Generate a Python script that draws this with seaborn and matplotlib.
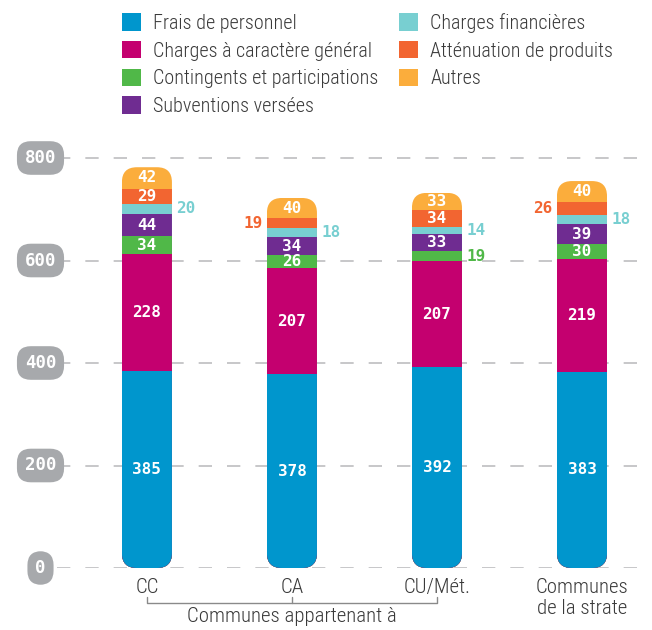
import numpy as np
import seaborn as sns
import matplotlib.pyplot as plt
from matplotlib.patches import Patch, FancyBboxPatch
from matplotlib.transforms import blended_transform_factory

# data (bottom -> top of each bar)
groups = ["CC", "CA", "CU/Mét.", "Communes\nde la strate"]
series = ["Frais de personnel", "Charges à caractère général",
          "Contingents et participations", "Subventions versées",
          "Charges financières", "Atténuation de produits", "Autres"]
frais = [385, 378, 392, 383]
charges_gen = [228, 207, 207, 219]
contingents = [34, 26, 19, 30]
subventions = [44, 34, 33, 39]
charges_fin = [20, 18, 14, 18]
attenuation = [29, 19, 34, 26]
autres = [42, 40, 33, 40]
colors = ["#0096cd", "#c4006f", "#50b848", "#6f2c91",
          "#78cfd1", "#f26531", "#fbad3c"]
yticks = [0, 200, 400, 600, 800]

values = np.array([frais, charges_gen, contingents, subventions,
                   charges_fin, attenuation, autres])
cum = values.cumsum(axis=0)

sns.set_style("white")
txt_font = ["Roboto Condensed", "Lato", "DejaVu Sans"]
num_font = ["DejaVu Sans Mono", "DejaVu Sans"]
plt.rcParams["font.family"] = txt_font
grey_txt = "#3a3a3a"
txt_size = 14.5

W, H = 652, 630
fig = plt.figure(figsize=(W / 100, H / 100), dpi=100)
x0_px, x1_px = 57, 640
y0_px = 568
ylim_top = 850
py_per_unit = 0.5125
ax_h_px = ylim_top * py_per_unit
ax = fig.add_axes([x0_px / W, (H - y0_px) / H, (x1_px - x0_px) / W, ax_h_px / H])

xlim = (-0.62, 3.40)
bar_w = 0.345

# stacked bars: cumulative totals drawn from the top segment down
for k in range(len(series) - 1, -1, -1):
    sns.barplot(x=groups, y=cum[k], color=colors[k], width=bar_w,
                saturation=1, errorbar=None, ax=ax, zorder=2, linewidth=0)

ax.set_xlim(*xlim)
ax.set_ylim(0, ylim_top)

# rounded ends via clip path
px_per_x = (x1_px - x0_px) / (xlim[1] - xlim[0])
r_px = 15
r_x = r_px / px_per_x
aspect = (1 / py_per_unit) / (1 / px_per_x)
clips = []
for i in range(len(groups)):
    clip = FancyBboxPatch((i - bar_w / 2, 0), bar_w, cum[-1][i],
                          boxstyle=f"round,pad=0,rounding_size={r_x}",
                          mutation_aspect=aspect, transform=ax.transData)
    clips.append(clip)
for p in ax.patches:
    i = int(round(p.get_x() + p.get_width() / 2))
    p.set_clip_path(clips[i])

# gridlines
for v in yticks:
    ax.axhline(v, color="#bdbec0", lw=1.2, ls=(0, (8, 9)), zorder=0)

# y tick pills
tr = blended_transform_factory(fig.transFigure, ax.transData)
for v in yticks:
    ax.text(40.5 / W, v, str(v), transform=tr, ha="center", va="center",
            color="white", fontsize=12.5, fontweight="bold", family=num_font,
            bbox=dict(boxstyle="round,pad=0.45,rounding_size=0.8",
                      fc="#a7a9ac", ec="none"), clip_on=False, zorder=5)

# value labels
lbl = dict(fontsize=11.5, fontweight="bold", family=num_font, zorder=4)
for i in range(len(groups)):
    for k in range(len(series)):
        v = values[k][i]
        mid = cum[k][i] - v / 2
        place = "in"
        if k == 4:
            place = "right"
        elif k == 5 and v < 29:
            place = "left"
        elif k == 2 and v < 26:
            place = "right"
        if place == "in":
            ax.text(i, mid, str(v), ha="center", va="center", color="white", **lbl)
        elif place == "right":
            ax.text(i + bar_w / 2 + 0.03, mid, str(v), ha="left", va="center",
                    color=colors[k], **lbl)
        else:
            ax.text(i - bar_w / 2 - 0.03, mid, str(v), ha="right", va="center",
                    color=colors[k], **lbl)

# axes cosmetics
sns.despine(ax=ax, left=True, bottom=True)
ax.set_yticks([])
ax.set_xticks(range(len(groups)))
ax.set_xticklabels(groups, fontsize=txt_size + 0.5, color=grey_txt,
                   linespacing=1.15, fontweight="light")
ax.tick_params(axis="x", length=0, pad=7)
ax.set_xlabel("")
ax.set_ylabel("")

# bracket under the first three groups
yb = -(603 - y0_px) / py_per_unit
yt = -(597 - y0_px) / py_per_unit
ax.plot([0, 0, 2, 2], [yt, yb, yb, yt], color="#8a8a8a", lw=1, clip_on=False)
ax.plot([1, 1], [yb, yt], color="#8a8a8a", lw=1, clip_on=False)
ax.text(1, -(617 - y0_px) / py_per_unit, "Communes appartenant à",
        ha="center", va="center", fontsize=txt_size + 0.5, color=grey_txt,
        fontweight="light")

# legend
handles = [Patch(facecolor=c, edgecolor="none", label=s)
           for c, s in zip(colors, series)]
fig.legend(handles=handles, loc="upper left", ncol=2,
           bbox_to_anchor=(104 / W, 1 + 5 / H), frameon=False,
           prop=dict(family=txt_font, size=txt_size, weight="light"),
           handlelength=0.95, handleheight=0.95,
           handletextpad=0.6, labelspacing=0.4, columnspacing=1.0,
           labelcolor=grey_txt)

fig.savefig("out.png", dpi=100)
